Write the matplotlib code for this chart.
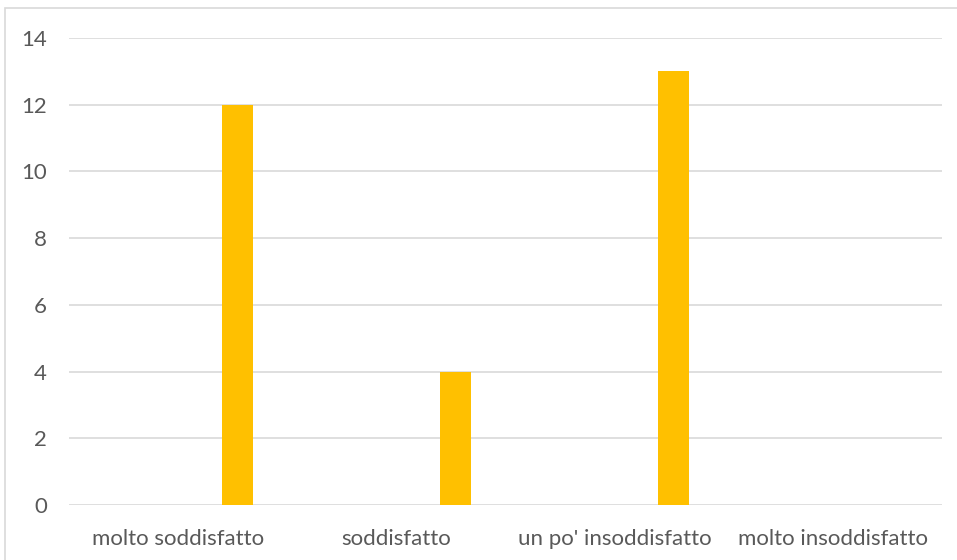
import matplotlib.pyplot as plt
from matplotlib.patches import Rectangle

categories = ['molto soddisfatto', 'soddisfatto', "un po' insoddisfatto", 'molto insoddisfatto']
values = [12, 4, 13, 0]
y_ticks = [0, 2, 4, 6, 8, 10, 12, 14]

plt.rcParams['font.family'] = ['Lato', 'DejaVu Sans']

fig = plt.figure(figsize=(9.57, 5.6), dpi=100)
fig.patch.set_facecolor('white')

# cornice grigia del grafico (esce dall'immagine a destra e in basso)
W, H = 957, 560
fig.patches.append(Rectangle((5 / W, -0.1), 1.1, 1 - 8 / H + 0.1,
                             transform=fig.transFigure, fill=False,
                             edgecolor='#D9D9D9', linewidth=1.2))

ax = fig.add_axes([69 / W, 1 - 505 / H, (942 - 69) / W, (505 - 38) / H])

x = list(range(len(categories)))
offset = 0.272
width = 0.142
ax.bar([i + offset for i in x], values, width=width, color='#FFC000', zorder=3)

ax.set_xlim(-0.5, len(categories) - 0.5)
ax.set_ylim(0, 14)
ax.set_yticks(y_ticks)
ax.set_xticks(x)
ax.set_xticklabels(categories)

ax.grid(axis='y', color='#D9D9D9', linewidth=1.2, zorder=0)
for s in ['top', 'right', 'left', 'bottom']:
    ax.spines[s].set_visible(False)
ax.tick_params(axis='both', length=0, colors='#595959', labelsize=16)
ax.tick_params(axis='y', pad=16)
ax.tick_params(axis='x', pad=17)

fig.savefig('out.png', dpi=100)
